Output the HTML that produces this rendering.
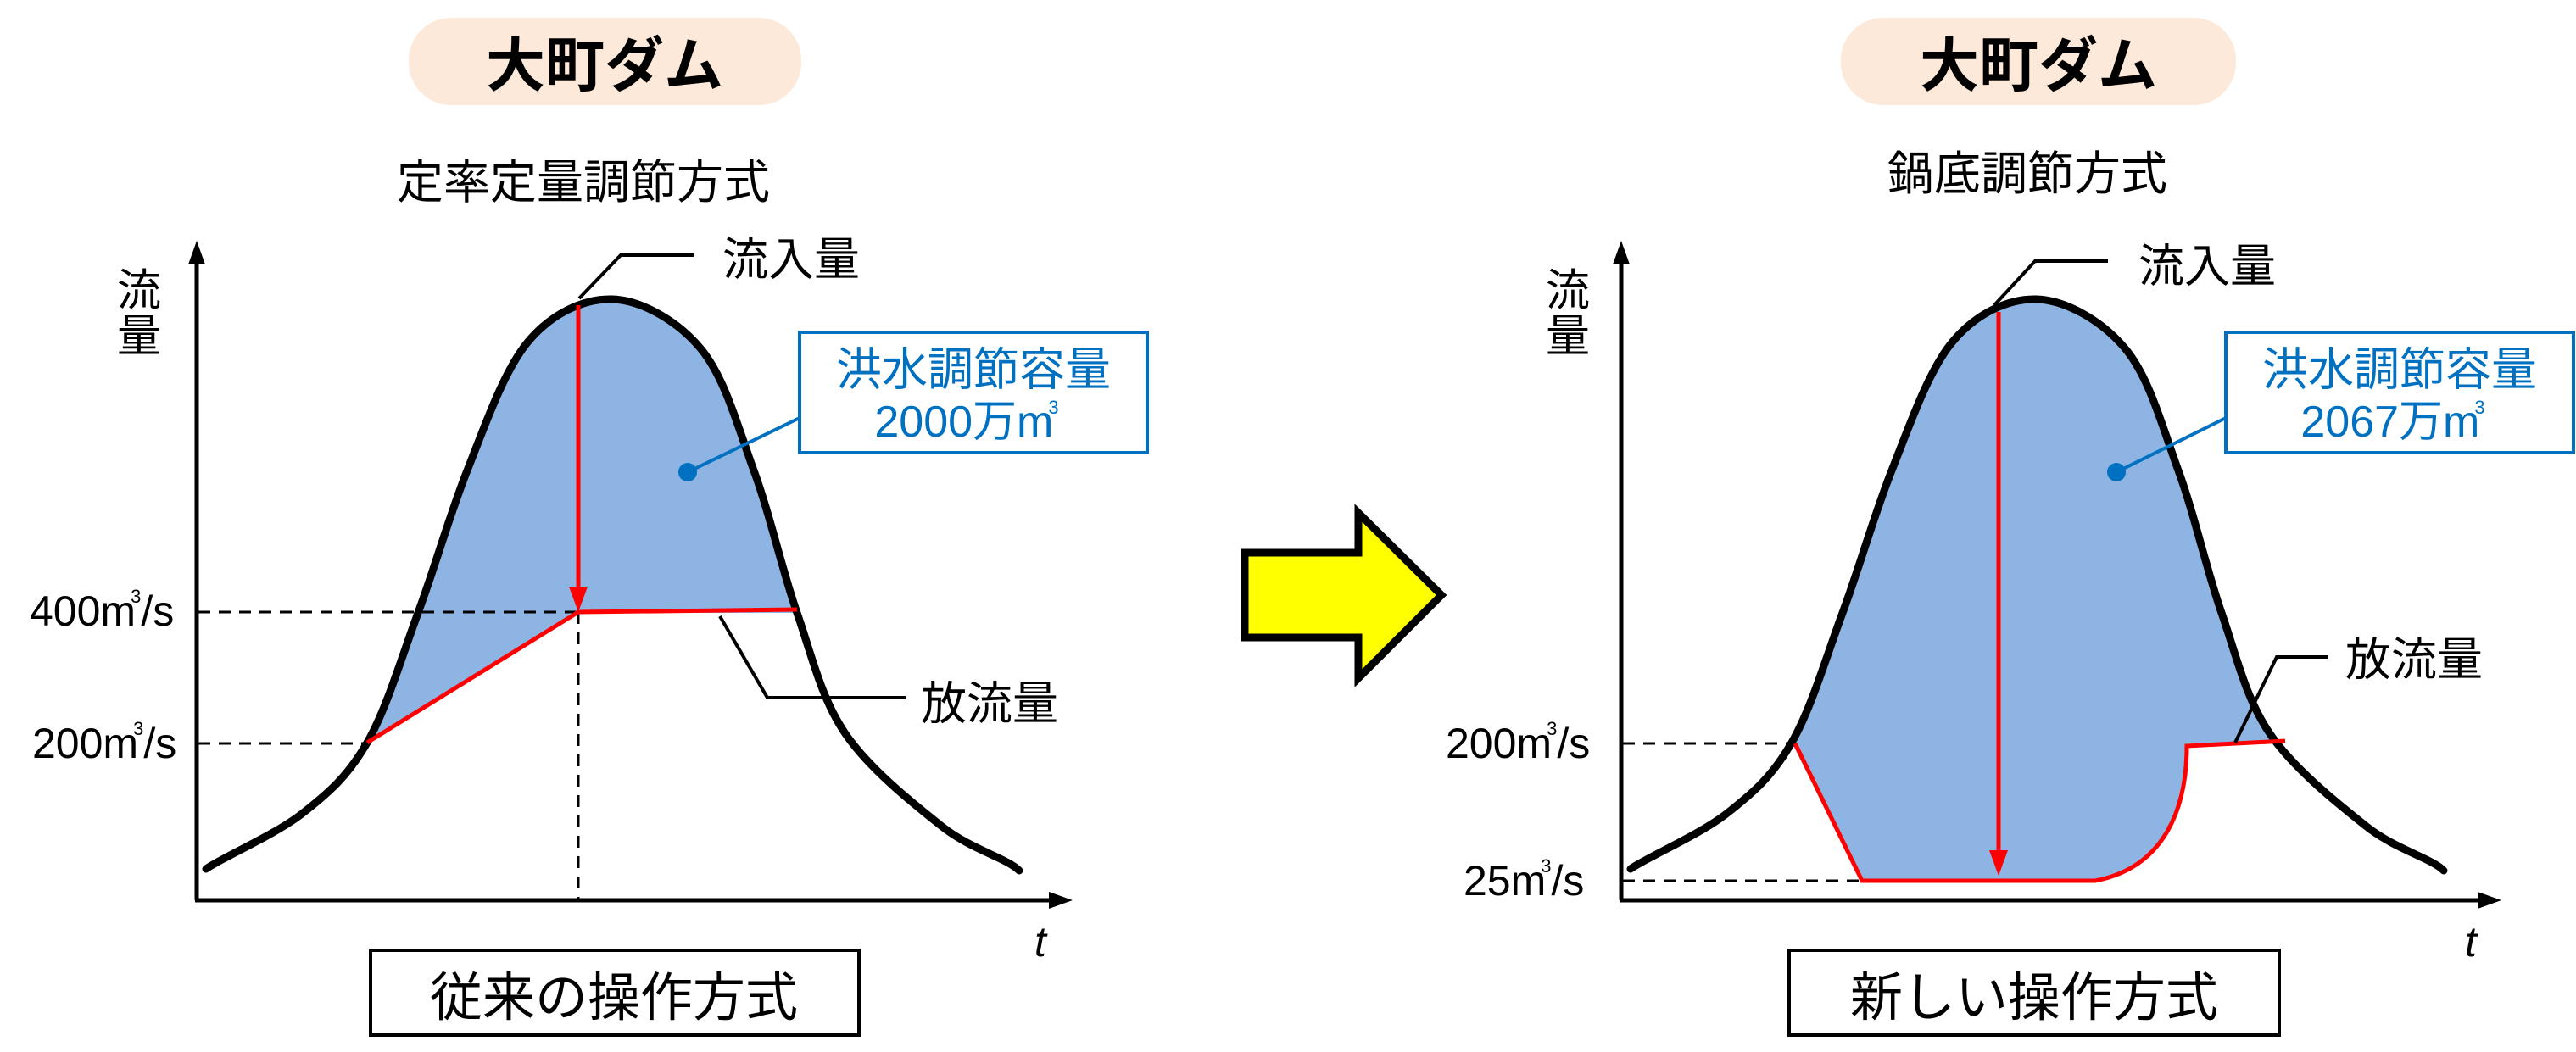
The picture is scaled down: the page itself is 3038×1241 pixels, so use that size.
<!DOCTYPE html>
<html><head><meta charset="utf-8"><style>
html,body{margin:0;padding:0;background:#fff;}
svg{display:block;}
text{font-family:"Liberation Sans","Noto Sans CJK JP",sans-serif;}
.jp{font-family:"Noto Sans CJK JP","Liberation Sans",sans-serif;}
</style></head><body>
<svg width="3038" height="1241" viewBox="0 0 3038 1241" xmlns="http://www.w3.org/2000/svg">

<!-- ===== LEFT PANEL ===== -->
<g>
<rect x="482" y="21" width="463" height="103" rx="50" fill="#fde9d9"/>
<text x="713" y="72" font-size="70" font-weight="bold" text-anchor="middle" dominant-baseline="central" class="jp">大町ダム</text>
<text x="688" y="210" font-size="55" text-anchor="middle" dominant-baseline="central" class="jp">定率定量調節方式</text>

<path d="M433,876 C456,836 473,777 493,723 C513,669 530,608 551,555 C572,502 594,438 622,404 C650,370 688,352 722,353 C756,354 799,378 827,412 C855,446 870,503 889,555 C908,607 922,671 940,723 L682,723 Z" fill="#8eb4e3"/>

<g stroke="#000" stroke-width="3" stroke-dasharray="14 10" fill="none">
<line x1="234" y1="722" x2="682" y2="722"/>
<line x1="234" y1="877" x2="433" y2="877"/>
<line x1="682" y1="722" x2="682" y2="1062"/>
</g>

<line x1="232" y1="300" x2="232" y2="1062" stroke="#000" stroke-width="5"/>
<polygon points="232,284 222,312 242,312" fill="#000"/>
<line x1="230" y1="1062" x2="1245" y2="1062" stroke="#000" stroke-width="5"/>
<polygon points="1265,1062 1237,1052 1237,1072" fill="#000"/>

<path d="M243,1025 C261,1012 324,985 356,960 C388,935 410,916 433,876 C456,836 473,777 493,723 C513,669 530,608 551,555 C572,502 594,438 622,404 C650,370 688,352 722,353 C756,354 799,378 827,412 C855,446 870,503 889,555 C908,607 922,671 940,723 C958,775 968,822 996,864 C1024,906 1077,948 1111,975 C1145,1002 1187,1012 1202,1027" fill="none" stroke="#000" stroke-width="9" stroke-linecap="round"/>

<polyline points="433,876 682,722 940,719" fill="none" stroke="#ff0000" stroke-width="5"/>
<line x1="682" y1="360" x2="682" y2="695" stroke="#ff0000" stroke-width="5"/>
<polygon points="682,722 671,692 693,692" fill="#ff0000"/>

<polyline points="683,352 732,301 818,301" fill="none" stroke="#000" stroke-width="4"/>
<text x="852" y="301" font-size="54" dominant-baseline="central" class="jp">流入量</text>
<polyline points="849,727 905,823 1068,823" fill="none" stroke="#000" stroke-width="4"/>
<text x="1086" y="825" font-size="54" dominant-baseline="central" class="jp">放流量</text>

<line x1="811" y1="557" x2="943" y2="493" stroke="#0070c0" stroke-width="4"/>
<circle cx="811" cy="557" r="11" fill="#0070c0"/>
<rect x="943" y="392" width="410" height="142" fill="#fff" stroke="#0070c0" stroke-width="4"/>
<text x="1148" y="431" font-size="54" fill="#0070c0" text-anchor="middle" dominant-baseline="central" class="jp">洪水調節容量</text>
<text x="1140" y="515" font-size="52" fill="#0070c0" text-anchor="middle">2000万m<tspan font-size="22" dx="-6" dy="-27">3</tspan></text>

<text x="164" y="338" font-size="52" text-anchor="middle" dominant-baseline="central" class="jp">流</text>
<text x="164" y="392" font-size="52" text-anchor="middle" dominant-baseline="central" class="jp">量</text>
<text x="35" y="738" font-size="50">400m<tspan font-size="22" dx="-6" dy="-27">3</tspan><tspan dy="27">/s</tspan></text>
<text x="38" y="894" font-size="50">200m<tspan font-size="22" dx="-6" dy="-27">3</tspan><tspan dy="27">/s</tspan></text>
<text x="1220" y="1128" font-size="50" font-style="italic">t</text>

<rect x="437" y="1121" width="576" height="100" fill="#fff" stroke="#000" stroke-width="4"/>
<text x="724" y="1171" font-size="62" text-anchor="middle" dominant-baseline="central" class="jp">従来の操作方式</text>
</g>

<!-- ===== ARROW ===== -->
<polygon points="1468,652 1602,652 1602,605 1700,702 1602,800 1602,752 1468,752" fill="#ffff00" stroke="#000" stroke-width="9"/>

<!-- ===== RIGHT PANEL ===== -->
<g>
<rect x="2171" y="21" width="466" height="103" rx="50" fill="#fde9d9"/>
<text x="2404" y="72" font-size="70" font-weight="bold" text-anchor="middle" dominant-baseline="central" class="jp">大町ダム</text>
<text x="2391" y="200" font-size="55" text-anchor="middle" dominant-baseline="central" class="jp">鍋底調節方式</text>

<g transform="translate(1680,0)">
<path d="M433,876 C456,836 473,777 493,723 C513,669 530,608 551,555 C572,502 594,438 622,404 C650,370 688,352 722,353 C756,354 799,378 827,412 C855,446 870,503 889,555 C908,607 922,671 940,723 C958,775 968,822 996,864 L1010,876 L899,880 C899,952 874,1023 791,1039 L516,1039 Z" fill="#8eb4e3"/>
<g stroke="#000" stroke-width="3" stroke-dasharray="14 10" fill="none">
<line x1="234" y1="877" x2="437" y2="877"/>
<line x1="234" y1="1039" x2="516" y2="1039"/>
</g>
<line x1="232" y1="300" x2="232" y2="1062" stroke="#000" stroke-width="5"/>
<polygon points="232,284 222,312 242,312" fill="#000"/>
<line x1="230" y1="1062" x2="1250" y2="1062" stroke="#000" stroke-width="5"/>
<polygon points="1270,1062 1242,1052 1242,1072" fill="#000"/>
<path d="M243,1025 C261,1012 324,985 356,960 C388,935 410,916 433,876 C456,836 473,777 493,723 C513,669 530,608 551,555 C572,502 594,438 622,404 C650,370 688,352 722,353 C756,354 799,378 827,412 C855,446 870,503 889,555 C908,607 922,671 940,723 C958,775 968,822 996,864 C1024,906 1077,948 1111,975 C1145,1002 1187,1012 1202,1027" fill="none" stroke="#000" stroke-width="9" stroke-linecap="round"/>
<path d="M437,877 L516,1039 L791,1039 C874,1023 899,952 899,880 L1015,874" fill="none" stroke="#ff0000" stroke-width="5"/>
<line x1="677" y1="368" x2="677" y2="1005" stroke="#ff0000" stroke-width="5"/>
<polygon points="677,1033 666,1003 688,1003" fill="#ff0000"/>
<polyline points="672,360 720,308 806,308" fill="none" stroke="#000" stroke-width="4"/>
<text x="842" y="309" font-size="54" dominant-baseline="central" class="jp">流入量</text>
<polyline points="956,876 1005,775 1066,775" fill="none" stroke="#000" stroke-width="4"/>
<text x="1086" y="773" font-size="54" dominant-baseline="central" class="jp">放流量</text>
<line x1="816" y1="557" x2="945" y2="493" stroke="#0070c0" stroke-width="4"/>
<circle cx="816" cy="557" r="11" fill="#0070c0"/>
<rect x="945" y="392" width="410" height="142" fill="#fff" stroke="#0070c0" stroke-width="4"/>
<text x="1150" y="431" font-size="54" fill="#0070c0" text-anchor="middle" dominant-baseline="central" class="jp">洪水調節容量</text>
<text x="1142" y="515" font-size="52" fill="#0070c0" text-anchor="middle">2067万m<tspan font-size="22" dx="-6" dy="-27">3</tspan></text>
<text x="169" y="338" font-size="52" text-anchor="middle" dominant-baseline="central" class="jp">流</text>
<text x="169" y="392" font-size="52" text-anchor="middle" dominant-baseline="central" class="jp">量</text>
<text x="25" y="894" font-size="50">200m<tspan font-size="22" dx="-6" dy="-27">3</tspan><tspan dy="27">/s</tspan></text>
<text x="46" y="1056" font-size="50">25m<tspan font-size="22" dx="-6" dy="-27">3</tspan><tspan dy="27">/s</tspan></text>
<text x="1227" y="1128" font-size="50" font-style="italic">t</text>
</g>

<rect x="2110" y="1121" width="578" height="100" fill="#fff" stroke="#000" stroke-width="4"/>
<text x="2399" y="1171" font-size="62" text-anchor="middle" dominant-baseline="central" class="jp">新しい操作方式</text>
</g>
</svg>
</body></html>
